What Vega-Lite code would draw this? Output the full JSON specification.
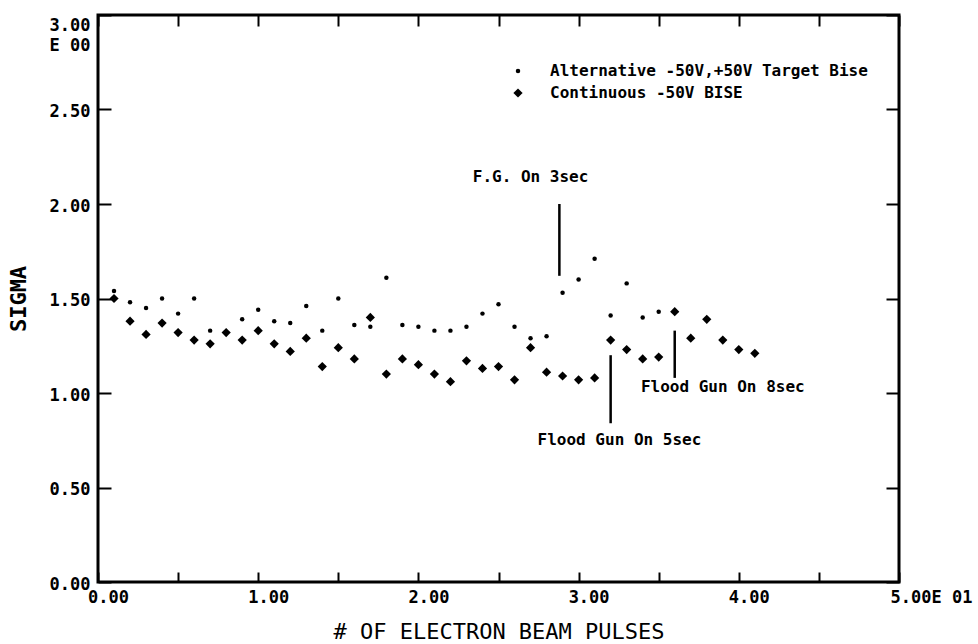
{
  "$schema": "https://vega.github.io/schema/vega-lite/v6.json",
  "width": 801,
  "height": 567,
  "autosize": {"type": "none"},
  "padding": {"left": 98, "top": 15, "right": 79, "bottom": 62},
  "background": "white",
  "config": {
    "view": {"stroke": "black", "strokeWidth": 3},
    "font": "DejaVu Sans Mono"
  },
  "layer": [
    {
      "data": {
        "values": [
          {"pulse": 1, "sigma": 1.54, "series": "Alternative -50V,+50V Target Bise"},
          {"pulse": 2, "sigma": 1.48, "series": "Alternative -50V,+50V Target Bise"},
          {"pulse": 3, "sigma": 1.45, "series": "Alternative -50V,+50V Target Bise"},
          {"pulse": 4, "sigma": 1.50, "series": "Alternative -50V,+50V Target Bise"},
          {"pulse": 5, "sigma": 1.42, "series": "Alternative -50V,+50V Target Bise"},
          {"pulse": 6, "sigma": 1.50, "series": "Alternative -50V,+50V Target Bise"},
          {"pulse": 7, "sigma": 1.33, "series": "Alternative -50V,+50V Target Bise"},
          {"pulse": 9, "sigma": 1.39, "series": "Alternative -50V,+50V Target Bise"},
          {"pulse": 10, "sigma": 1.44, "series": "Alternative -50V,+50V Target Bise"},
          {"pulse": 11, "sigma": 1.38, "series": "Alternative -50V,+50V Target Bise"},
          {"pulse": 12, "sigma": 1.37, "series": "Alternative -50V,+50V Target Bise"},
          {"pulse": 13, "sigma": 1.46, "series": "Alternative -50V,+50V Target Bise"},
          {"pulse": 14, "sigma": 1.33, "series": "Alternative -50V,+50V Target Bise"},
          {"pulse": 15, "sigma": 1.50, "series": "Alternative -50V,+50V Target Bise"},
          {"pulse": 16, "sigma": 1.36, "series": "Alternative -50V,+50V Target Bise"},
          {"pulse": 17, "sigma": 1.35, "series": "Alternative -50V,+50V Target Bise"},
          {"pulse": 18, "sigma": 1.61, "series": "Alternative -50V,+50V Target Bise"},
          {"pulse": 19, "sigma": 1.36, "series": "Alternative -50V,+50V Target Bise"},
          {"pulse": 20, "sigma": 1.35, "series": "Alternative -50V,+50V Target Bise"},
          {"pulse": 21, "sigma": 1.33, "series": "Alternative -50V,+50V Target Bise"},
          {"pulse": 22, "sigma": 1.33, "series": "Alternative -50V,+50V Target Bise"},
          {"pulse": 23, "sigma": 1.35, "series": "Alternative -50V,+50V Target Bise"},
          {"pulse": 24, "sigma": 1.42, "series": "Alternative -50V,+50V Target Bise"},
          {"pulse": 25, "sigma": 1.47, "series": "Alternative -50V,+50V Target Bise"},
          {"pulse": 26, "sigma": 1.35, "series": "Alternative -50V,+50V Target Bise"},
          {"pulse": 27, "sigma": 1.29, "series": "Alternative -50V,+50V Target Bise"},
          {"pulse": 28, "sigma": 1.30, "series": "Alternative -50V,+50V Target Bise"},
          {"pulse": 29, "sigma": 1.53, "series": "Alternative -50V,+50V Target Bise"},
          {"pulse": 30, "sigma": 1.60, "series": "Alternative -50V,+50V Target Bise"},
          {"pulse": 31, "sigma": 1.71, "series": "Alternative -50V,+50V Target Bise"},
          {"pulse": 32, "sigma": 1.41, "series": "Alternative -50V,+50V Target Bise"},
          {"pulse": 33, "sigma": 1.58, "series": "Alternative -50V,+50V Target Bise"},
          {"pulse": 34, "sigma": 1.40, "series": "Alternative -50V,+50V Target Bise"},
          {"pulse": 35, "sigma": 1.43, "series": "Alternative -50V,+50V Target Bise"},
          {"pulse": 1, "sigma": 1.50, "series": "Continuous -50V BISE"},
          {"pulse": 2, "sigma": 1.38, "series": "Continuous -50V BISE"},
          {"pulse": 3, "sigma": 1.31, "series": "Continuous -50V BISE"},
          {"pulse": 4, "sigma": 1.37, "series": "Continuous -50V BISE"},
          {"pulse": 5, "sigma": 1.32, "series": "Continuous -50V BISE"},
          {"pulse": 6, "sigma": 1.28, "series": "Continuous -50V BISE"},
          {"pulse": 7, "sigma": 1.26, "series": "Continuous -50V BISE"},
          {"pulse": 8, "sigma": 1.32, "series": "Continuous -50V BISE"},
          {"pulse": 9, "sigma": 1.28, "series": "Continuous -50V BISE"},
          {"pulse": 10, "sigma": 1.33, "series": "Continuous -50V BISE"},
          {"pulse": 11, "sigma": 1.26, "series": "Continuous -50V BISE"},
          {"pulse": 12, "sigma": 1.22, "series": "Continuous -50V BISE"},
          {"pulse": 13, "sigma": 1.29, "series": "Continuous -50V BISE"},
          {"pulse": 14, "sigma": 1.14, "series": "Continuous -50V BISE"},
          {"pulse": 15, "sigma": 1.24, "series": "Continuous -50V BISE"},
          {"pulse": 16, "sigma": 1.18, "series": "Continuous -50V BISE"},
          {"pulse": 17, "sigma": 1.40, "series": "Continuous -50V BISE"},
          {"pulse": 18, "sigma": 1.10, "series": "Continuous -50V BISE"},
          {"pulse": 19, "sigma": 1.18, "series": "Continuous -50V BISE"},
          {"pulse": 20, "sigma": 1.15, "series": "Continuous -50V BISE"},
          {"pulse": 21, "sigma": 1.10, "series": "Continuous -50V BISE"},
          {"pulse": 22, "sigma": 1.06, "series": "Continuous -50V BISE"},
          {"pulse": 23, "sigma": 1.17, "series": "Continuous -50V BISE"},
          {"pulse": 24, "sigma": 1.13, "series": "Continuous -50V BISE"},
          {"pulse": 25, "sigma": 1.14, "series": "Continuous -50V BISE"},
          {"pulse": 26, "sigma": 1.07, "series": "Continuous -50V BISE"},
          {"pulse": 27, "sigma": 1.24, "series": "Continuous -50V BISE"},
          {"pulse": 28, "sigma": 1.11, "series": "Continuous -50V BISE"},
          {"pulse": 29, "sigma": 1.09, "series": "Continuous -50V BISE"},
          {"pulse": 30, "sigma": 1.07, "series": "Continuous -50V BISE"},
          {"pulse": 31, "sigma": 1.08, "series": "Continuous -50V BISE"},
          {"pulse": 32, "sigma": 1.28, "series": "Continuous -50V BISE"},
          {"pulse": 33, "sigma": 1.23, "series": "Continuous -50V BISE"},
          {"pulse": 34, "sigma": 1.18, "series": "Continuous -50V BISE"},
          {"pulse": 35, "sigma": 1.19, "series": "Continuous -50V BISE"},
          {"pulse": 36, "sigma": 1.43, "series": "Continuous -50V BISE"},
          {"pulse": 37, "sigma": 1.29, "series": "Continuous -50V BISE"},
          {"pulse": 38, "sigma": 1.39, "series": "Continuous -50V BISE"},
          {"pulse": 39, "sigma": 1.28, "series": "Continuous -50V BISE"},
          {"pulse": 40, "sigma": 1.23, "series": "Continuous -50V BISE"},
          {"pulse": 41, "sigma": 1.21, "series": "Continuous -50V BISE"}
        ]
      },
      "mark": {"type": "point", "filled": true, "opacity": 1, "color": "black"},
      "encoding": {
        "x": {
          "field": "pulse", "type": "quantitative",
          "scale": {"domain": [0, 50], "nice": false, "zero": false},
          "axis": {
            "orient": "bottom",
            "values": [0, 5, 10, 15, 20, 25, 30, 35, 40, 45, 50],
            "grid": false, "domain": false,
            "tickSize": -10, "tickWidth": 2, "tickColor": "black",
            "labelExpr": "datum.value % 10 == 0 ? (datum.value == 50 ? '5.00E 01' : format(datum.value / 10, '.2f')) : ''",
            "labelFont": "DejaVu Sans Mono", "labelFontWeight": "bold", "labelFontSize": 17, "labelColor": "black",
            "labelPadding": 17,
            "labelOffset": {"condition": {"test": "datum.value == 50", "value": 32}, "value": 10},
            "labelFlush": false, "labelOverlap": false, "labelBound": false,
            "title": "# OF ELECTRON BEAM PULSES",
            "titleFont": "DejaVu Sans Mono", "titleFontWeight": "normal", "titleFontSize": 22, "titleColor": "black",
            "titlePadding": 16
          }
        },
        "y": {
          "field": "sigma", "type": "quantitative",
          "scale": {"domain": [0, 3], "nice": false, "zero": false},
          "axis": {
            "orient": "left",
            "values": [0, 0.5, 1, 1.5, 2, 2.5, 3],
            "grid": false, "domain": false,
            "tickSize": -13, "tickWidth": 2, "tickColor": "black",
            "labelExpr": "datum.value == 3 ? ['3.00', 'E 00'] : format(datum.value, '.2f')",
            "labelFont": "DejaVu Sans Mono", "labelFontWeight": "bold", "labelFontSize": 17, "labelColor": "black",
            "labelPadding": 21, "labelLineHeight": 20,
            "labelOffset": {"condition": {"test": "datum.value == 3", "value": 10}, "value": 2},
            "labelFlush": false, "labelOverlap": false, "labelBound": false,
            "title": "SIGMA",
            "titleFont": "DejaVu Sans Mono", "titleFontWeight": "bold", "titleFontSize": 22, "titleColor": "black",
            "titlePadding": 19
          }
        },
        "shape": {
          "field": "series", "type": "nominal",
          "scale": {"domain": ["Alternative -50V,+50V Target Bise", "Continuous -50V BISE"], "range": ["circle", "diamond"]},
          "legend": {
            "orient": "none", "legendX": 412, "legendY": 48,
            "title": null,
            "labelFont": "DejaVu Sans Mono", "labelFontWeight": "bold", "labelFontSize": 16, "labelColor": "black",
            "labelOffset": 24, "rowPadding": 6, "labelLimit": 0,
            "symbolFillColor": "black", "symbolStrokeColor": "black"
          }
        },
        "size": {
          "field": "series", "type": "nominal",
          "scale": {"domain": ["Alternative -50V,+50V Target Bise", "Continuous -50V BISE"], "range": [20, 85]},
          "legend": {
            "orient": "none", "legendX": 412, "legendY": 48,
            "title": null,
            "labelFont": "DejaVu Sans Mono", "labelFontWeight": "bold", "labelFontSize": 16, "labelColor": "black",
            "labelOffset": 24, "rowPadding": 6, "labelLimit": 0
          }
        }
      }
    },
    {
      "data": {
        "values": [
          {"pulse": 28.8, "sigma": 2.00, "sigma2": 1.62},
          {"pulse": 32.0, "sigma": 1.20, "sigma2": 0.84},
          {"pulse": 36.0, "sigma": 1.33, "sigma2": 1.08}
        ]
      },
      "mark": {"type": "rule", "color": "black", "strokeWidth": 2.5},
      "encoding": {
        "x": {
          "field": "pulse", "type": "quantitative",
          "scale": {"domain": [0, 50], "nice": false, "zero": false},
          "axis": {
            "orient": "top",
            "values": [0, 5, 10, 15, 20, 25, 30, 35, 40, 45, 50],
            "grid": false, "domain": false, "labels": false, "title": null,
            "tickSize": -11, "tickWidth": 2, "tickColor": "black"
          }
        },
        "y": {
          "field": "sigma", "type": "quantitative",
          "scale": {"domain": [0, 3], "nice": false, "zero": false},
          "axis": {
            "orient": "right",
            "values": [0, 0.5, 1, 1.5, 2, 2.5, 3],
            "grid": false, "domain": false, "labels": false, "title": null,
            "tickSize": -13, "tickWidth": 2, "tickColor": "black"
          }
        },
        "y2": {"field": "sigma2"}
      }
    },
    {
      "data": {
        "values": [
          {"pulse": 27.0, "sigma": 2.145, "label": "F.G. On 3sec"},
          {"pulse": 32.55, "sigma": 0.751, "label": "Flood Gun On 5sec"},
          {"pulse": 39.0, "sigma": 1.033, "label": "Flood Gun On 8sec"}
        ]
      },
      "mark": {"type": "text", "font": "DejaVu Sans Mono", "fontWeight": "bold", "fontSize": 16, "color": "black", "align": "center", "baseline": "middle"},
      "encoding": {
        "x": {"field": "pulse", "type": "quantitative", "scale": {"domain": [0, 50], "nice": false, "zero": false}, "axis": null},
        "y": {"field": "sigma", "type": "quantitative", "scale": {"domain": [0, 3], "nice": false, "zero": false}, "axis": null},
        "text": {"field": "label"}
      }
    }
  ]
}
